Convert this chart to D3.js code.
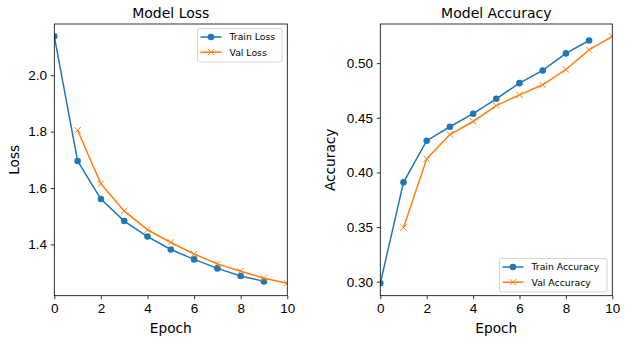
<!DOCTYPE html>
<html>
<head>
<meta charset="utf-8">
<script src="https://cdn.jsdelivr.net/npm/d3@7"></script>
<style>
  html, body { margin: 0; padding: 0; background: #fff; }
  svg { display: block; font-family: "DejaVu Sans", sans-serif; }
</style>
</head>
<body>
<svg id="chart" width="628" height="342"></svg>
<script>
// Training history, one value per epoch
const trainEpochs = [0, 1, 2, 3, 4, 5, 6, 7, 8, 9];
const valEpochs = [1, 2, 3, 4, 5, 6, 7, 8, 9, 10];
const trainLoss = [2.138, 1.696, 1.561, 1.483, 1.428, 1.382, 1.347, 1.315, 1.288, 1.269];
const valLoss = [1.805, 1.615, 1.519, 1.452, 1.407, 1.366, 1.331, 1.305, 1.280, 1.262];
const trainAcc = [0.2985, 0.3909, 0.4290, 0.4418, 0.4537, 0.4674, 0.4817, 0.4933, 0.5089, 0.5207];
const valAcc = [0.3494, 0.4124, 0.4347, 0.4466, 0.4611, 0.4710, 0.4802, 0.4942, 0.5121, 0.5245];
const xTicks = [0, 2, 4, 6, 8, 10];
const lossTicks = [1.4, 1.6, 1.8, 2.0];
const accTicks = [0.30, 0.35, 0.40, 0.45, 0.50];

const BLUE = "#1f77b4", ORANGE = "#ff7f0e";
const svg = d3.select("#chart");

// pad a data extent by 5% on each side
function padded(values) {
  const [lo, hi] = d3.extent(values);
  const m = (hi - lo) * 0.05;
  return [lo - m, hi + m];
}

function panel(opt) {
  const { left, right, top, bottom } = opt.box;
  const x = d3.scaleLinear().domain([0, 10]).range([left, right]);
  const y = d3.scaleLinear().domain(padded(opt.train.concat(opt.val))).range([bottom, top]);
  const g = svg.append("g");

  const clipId = "clip-" + opt.id;
  svg.append("defs").append("clipPath").attr("id", clipId)
    .append("rect").attr("x", left).attr("y", top)
    .attr("width", right - left).attr("height", bottom - top);

  // axes
  const xAxis = d3.axisBottom(x).tickValues(xTicks).tickFormat(d3.format("d"))
    .tickSize(3.5).tickPadding(4.5);
  const yAxis = d3.axisLeft(y).tickValues(opt.yTicks).tickFormat(d3.format(opt.yFormat))
    .tickSize(3.5).tickPadding(3.8);
  const gx = g.append("g").attr("transform", `translate(0,${bottom})`).call(xAxis);
  const gy = g.append("g").attr("transform", `translate(${left},0)`).call(yAxis);
  [gx, gy].forEach(a => {
    a.select(".domain").remove();
    a.selectAll(".tick line").attr("stroke", "#000").attr("stroke-width", 0.8);
    a.selectAll(".tick text").attr("fill", "#000").style("font-size", "13.5px");
  });

  const plot = g.append("g").attr("clip-path", `url(#${clipId})`);
  const line = d3.line();

  // train series: line with circles
  const trainPts = opt.trainX.map((e, i) => [x(e), y(opt.train[i])]);
  plot.append("path").attr("d", line(trainPts)).attr("fill", "none")
    .attr("stroke", BLUE).attr("stroke-width", 1.5);
  plot.selectAll(null).data(trainPts).join("circle")
    .attr("cx", d => d[0]).attr("cy", d => d[1]).attr("r", 3.3).attr("fill", BLUE);

  // validation series: line with crosses
  const valPts = opt.valX.map((e, i) => [x(e), y(opt.val[i])]);
  plot.append("path").attr("d", line(valPts)).attr("fill", "none")
    .attr("stroke", ORANGE).attr("stroke-width", 1.5);
  const s = 3.2;
  plot.selectAll(null).data(valPts).join("path")
    .attr("d", d => `M${d[0]-s},${d[1]-s}L${d[0]+s},${d[1]+s}M${d[0]-s},${d[1]+s}L${d[0]+s},${d[1]-s}`)
    .attr("stroke", ORANGE).attr("stroke-width", 1).attr("fill", "none");

  // frame
  g.append("rect").attr("x", left).attr("y", top)
    .attr("width", right - left).attr("height", bottom - top)
    .attr("fill", "none").attr("stroke", "#000").attr("stroke-width", 0.8);

  // titles
  g.append("text").attr("x", (left + right) / 2).attr("y", 18)
    .attr("text-anchor", "middle").style("font-size", "14px").text(opt.title);
  g.append("text").attr("x", (left + right) / 2).attr("y", 333)
    .attr("text-anchor", "middle").style("font-size", "13.7px").text("Epoch");
  g.append("text")
    .attr("transform", `translate(${opt.yLabelX},${(top + bottom) / 2}) rotate(-90)`)
    .attr("text-anchor", "middle").style("font-size", "13.7px").text(opt.yLabel);

  // legend
  const L = opt.legend;
  const lg = g.append("g");
  lg.append("rect").attr("x", L.x).attr("y", L.y).attr("width", L.w).attr("height", L.h)
    .attr("rx", 2).attr("fill", "#fff").attr("fill-opacity", 0.8)
    .attr("stroke", "#cccccc").attr("stroke-width", 0.8);
  const entries = [
    { label: opt.names[0], color: BLUE, mark: "circle" },
    { label: opt.names[1], color: ORANGE, mark: "cross" }
  ];
  entries.forEach((en, i) => {
    const cy = L.y + 8.5 + i * 15.2;
    const hx0 = L.x + 3, hx1 = L.x + 24;
    lg.append("line").attr("x1", hx0).attr("x2", hx1).attr("y1", cy).attr("y2", cy)
      .attr("stroke", en.color).attr("stroke-width", 1.5);
    const mx = (hx0 + hx1) / 2;
    if (en.mark === "circle") {
      lg.append("circle").attr("cx", mx).attr("cy", cy).attr("r", 3.3).attr("fill", en.color);
    } else {
      lg.append("path")
        .attr("d", `M${mx-s},${cy-s}L${mx+s},${cy+s}M${mx-s},${cy+s}L${mx+s},${cy-s}`)
        .attr("stroke", en.color).attr("stroke-width", 1);
    }
    lg.append("text").attr("x", L.x + 32).attr("y", cy + 3.4)
      .style("font-size", "9.3px").attr("fill", "#000").text(en.label);
  });
}

panel({
  id: "loss",
  box: { left: 54.3, right: 287.3, top: 24, bottom: 295.7 },
  trainX: trainEpochs, valX: valEpochs,
  train: trainLoss, val: valLoss,
  yTicks: lossTicks, yFormat: ".1f",
  title: "Model Loss", yLabel: "Loss", yLabelX: 19,
  names: ["Train Loss", "Val Loss"],
  legend: { x: 197.5, y: 28.5, w: 84.5, h: 33.5 }
});

panel({
  id: "acc",
  box: { left: 380.3, right: 612.3, top: 24, bottom: 295.7 },
  trainX: trainEpochs, valX: valEpochs,
  train: trainAcc, val: valAcc,
  yTicks: accTicks, yFormat: ".2f",
  title: "Model Accuracy", yLabel: "Accuracy", yLabelX: 335,
  names: ["Train Accuracy", "Val Accuracy"],
  legend: { x: 499.5, y: 258.5, w: 107.5, h: 33.5 }
});
</script>
</body>
</html>
